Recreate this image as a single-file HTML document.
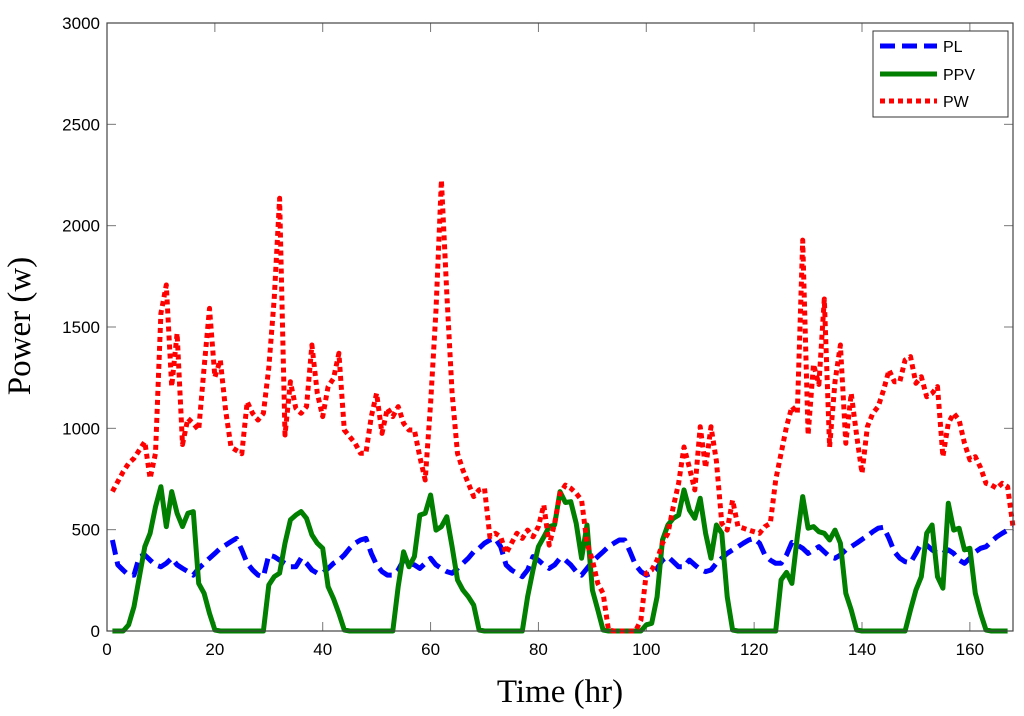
<!DOCTYPE html>
<html><head><meta charset="utf-8"><style>
html,body{margin:0;padding:0;background:#fff;}
svg{display:block;font-family:"Liberation Sans",Arial,sans-serif;}
</style></head><body>
<svg id="chart" width="1024" height="716" viewBox="0 0 1024 716" xmlns="http://www.w3.org/2000/svg">
<rect x="0" y="0" width="1024" height="716" fill="#fff"/>
<g id="grid"></g>
<g id="series"></g>
<rect x="107" y="23" width="906" height="608" fill="none" stroke="#444" stroke-width="1.2"/>
<text x="30" y="326" transform="rotate(-90 30 326)" text-anchor="middle" font-family="Liberation Serif, serif" font-size="33">Power (w)</text>
<text x="560" y="702" text-anchor="middle" font-family="Liberation Serif, serif" font-size="33">Time (hr)</text>
<g>
<rect x="873" y="31" width="135" height="86" fill="#fff" stroke="#333" stroke-width="1"/>
<line x1="880" y1="46" x2="937" y2="46" stroke="#0000ff" stroke-width="5" stroke-dasharray="15 7"/>
<text x="943" y="52" font-size="16">PL</text>
<line x1="880" y1="74" x2="937" y2="74" stroke="#007f00" stroke-width="5"/>
<text x="943" y="80" font-size="16">PPV</text>
<line x1="880" y1="101" x2="937" y2="101" stroke="#ff0000" stroke-width="5" stroke-dasharray="5 4"/>
<text x="943" y="107" font-size="16">PW</text>
</g>
</svg>
<script>
const xTicks=[0,20,40,60,80,100,120,140,160];
const yTicks=[0,500,1000,1500,2000,2500,3000];
const PL=[449,326,300,276,276,367,375,350,326,317,334,359,326,309,293,276,309,334,359,383,408,424,441,457,400,334,301,276,268,375,367,350,334,317,317,359,334,301,285,285,309,334,350,375,408,433,449,457,383,326,293,276,276,301,350,334,326,309,334,359,326,309,293,285,309,334,359,391,408,433,449,457,416,326,301,285,268,301,367,350,326,309,326,359,350,326,293,276,309,342,367,391,416,433,449,449,391,326,293,276,285,309,350,367,342,317,317,350,326,304,293,301,334,359,383,400,416,433,449,457,433,375,350,334,334,375,437,424,408,383,400,416,391,367,359,375,400,416,433,452,469,490,507,512,457,391,359,342,337,383,433,424,400,383,383,400,383,350,334,359,391,408,416,441,465,482,498,507];
const PPV=[0,0,0,30,120,268,416,482,613,712,515,688,581,515,581,589,235,186,87,5,0,0,0,0,0,0,0,0,0,227,268,285,433,548,572,589,556,474,433,408,219,160,87,5,0,0,0,0,0,0,0,0,0,219,391,317,367,572,581,671,498,515,564,416,252,202,169,128,5,0,0,0,0,0,0,0,0,169,301,416,464,515,523,688,634,638,531,359,523,202,104,5,0,0,0,0,0,0,0,30,38,169,449,523,556,572,696,597,556,655,482,359,523,482,169,5,0,0,0,0,0,0,0,0,252,289,235,465,663,507,515,490,482,449,498,433,186,104,5,0,0,0,0,0,0,0,0,0,104,202,268,482,523,268,211,630,498,507,400,408,186,87,5,0,0,0,0];
const PW=[688,737,786,827,852,893,934,753,877,1567,1707,1206,1469,920,1049,1024,992,1299,1592,1253,1337,1090,908,891,875,1131,1074,1041,1074,1299,1638,2135,967,1230,1100,1074,1107,1411,1173,1058,1206,1246,1370,992,959,926,877,877,1058,1173,975,1099,1058,1107,1025,992,992,860,745,1123,1584,2225,1666,1173,877,794,729,663,696,704,465,482,465,383,433,482,457,498,465,515,622,424,531,679,720,704,679,646,433,350,235,186,5,0,0,0,0,0,54,285,301,350,433,482,613,729,908,806,696,1008,806,1008,839,531,498,646,515,507,498,490,482,515,531,745,877,1008,1107,1074,1929,967,1316,1217,1638,908,1230,1411,926,1173,967,778,1008,1074,1107,1189,1288,1230,1230,1337,1354,1222,1255,1156,1173,1206,860,1025,1074,1041,926,844,860,806,729,720,704,729,712,515];
const X0=107,X1=1013,Y0=631,Y1=23,XMAX=168,YMAX=3000;
function xs(v){return X0+(v/XMAX)*(X1-X0);}
function ys(v){return Y0-(v/YMAX)*(Y0-Y1);}
const NS="http://www.w3.org/2000/svg";
const g=document.getElementById('grid'),s=document.getElementById('series');
xTicks.forEach(t=>{
 const l=document.createElementNS(NS,'line');
 
 
 l.setAttribute('x1',xs(t));l.setAttribute('x2',xs(t));l.setAttribute('y1',Y0);l.setAttribute('y2',Y0-9);l.setAttribute('stroke','#777');g.appendChild(l);
 const l2=document.createElementNS(NS,'line');
 
 
 l2.setAttribute('x1',xs(t));l2.setAttribute('x2',xs(t));l2.setAttribute('y1',Y1);l2.setAttribute('y2',Y1+9);l2.setAttribute('stroke','#777');g.appendChild(l2);
 const tx=document.createElementNS(NS,'text');
 
 
 tx.setAttribute('x',xs(t));tx.setAttribute('y',Y0+24);tx.setAttribute('text-anchor','middle');tx.setAttribute('font-size','17');tx.textContent=t;g.appendChild(tx);
});
yTicks.forEach(t=>{
 const l=document.createElementNS(NS,'line');
 
 
 l.setAttribute('x1',X0);l.setAttribute('x2',X0+9);l.setAttribute('y1',ys(t));l.setAttribute('y2',ys(t));l.setAttribute('stroke','#777');g.appendChild(l);
 const l2=document.createElementNS(NS,'line');
 
 
 l2.setAttribute('x1',X1);l2.setAttribute('x2',X1-9);l2.setAttribute('y1',ys(t));l2.setAttribute('y2',ys(t));l2.setAttribute('stroke','#777');g.appendChild(l2);
 const tx=document.createElementNS(NS,'text');
 
 
 tx.setAttribute('x',X0-7);tx.setAttribute('y',ys(t)+6);tx.setAttribute('text-anchor','end');tx.setAttribute('font-size','17');tx.textContent=t;g.appendChild(tx);
});
function line(arr,color,dash,name){
 const p=document.createElementNS(NS,'polyline');
 
 
 p.setAttribute('points',arr.map((v,i)=>xs(i+1).toFixed(1)+','+ys(v).toFixed(1)).join(' '));
 p.setAttribute('fill','none');p.setAttribute('stroke',color);p.setAttribute('stroke-width','5');
 p.setAttribute('stroke-linejoin','round');
 if(dash)p.setAttribute('stroke-dasharray',dash);
 s.appendChild(p);
}
line(PL,'#0000ff','15 7','pl-line');
line(PPV,'#007f00',null,'ppv-line');
line(PW,'#ff0000','5 4','pw-line');
</script>
</body></html>
